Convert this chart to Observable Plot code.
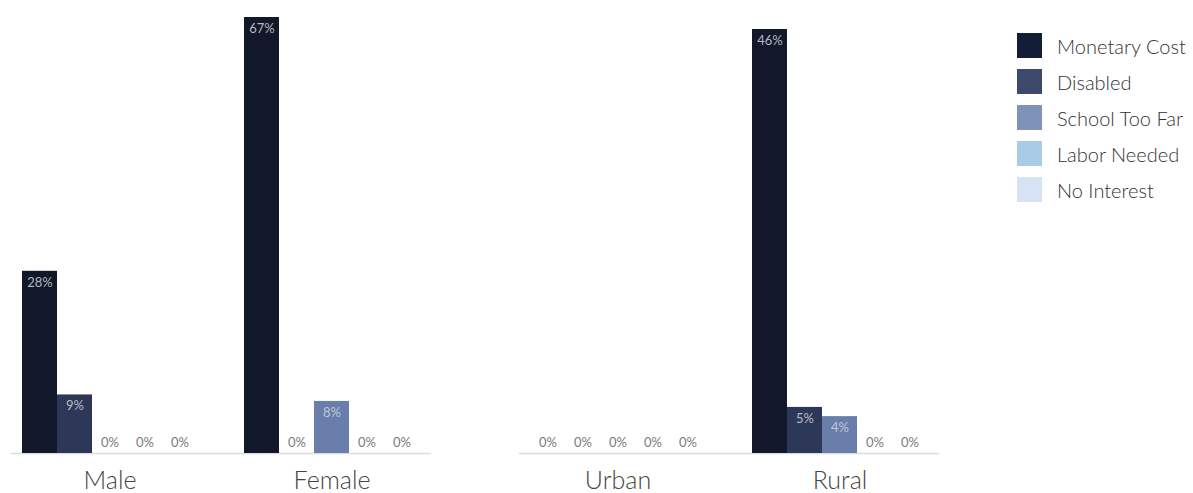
<!DOCTYPE html>
<html>
<head>
<meta charset="utf-8">
<script src="https://cdn.jsdelivr.net/npm/d3@7"></script>
<script src="https://cdn.jsdelivr.net/npm/@observablehq/plot@0.6"></script>
<style>
  html, body { margin: 0; padding: 0; background: #fff; }
  #root { position: relative; width: 1193px; height: 493px; overflow: hidden; font-family: Lato, "Open Sans", sans-serif; }
  .panel { position: absolute; top: 0; }
  #legend { position: absolute; left: 1017px; top: 33px; }
  .li { display: flex; align-items: center; height: 25px; margin-bottom: 11px; }
  .sw { width: 25px; height: 25px; margin-right: 15px; flex: none; }
  .lt { font-size: 20px; color: #333; font-weight: 300; white-space: nowrap; }
</style>
</head>
<body>
<div id="root">
  <div id="p1" class="panel" style="left:0px"></div>
  <div id="p2" class="panel" style="left:508px"></div>
  <div id="legend"></div>
</div>
<script>
// ---- data ----
const causes = ["Monetary Cost", "Disabled", "School Too Far", "Labor Needed", "No Interest"];
const barColors = ["#111829", "#2d3858", "#6a7eab", "#a9cbe6", "#d5e3f5"];
const legendColors = ["#111e36", "#3d4a6b", "#7f93b8", "#a9cbe6", "#d5e3f5"];

const genderGroups = ["Male", "Female"];
const maleValues = [28, 9, 0, 0, 0];
const femaleValues = [67, 0, 8, 0, 0];

const areaGroups = ["Urban", "Rural"];
const urbanValues = [0, 0, 0, 0, 0];
const ruralValues = [46, 5, 4, 0, 0];

function rows(groups, seriesList) {
  const out = [];
  groups.forEach((g, gi) => {
    causes.forEach((c, ci) => out.push({group: g, cause: c, value: seriesList[gi][ci]}));
  });
  return out;
}

function panel(groups, data, marginTop) {
  return Plot.plot({
    width: 440,
    height: 493,
    marginLeft: 10,
    marginRight: 10,
    marginTop: marginTop,
    marginBottom: 40,
    style: {fontFamily: "Lato, 'Open Sans', sans-serif", fontSize: "25px", fontWeight: 300, color: "#444", background: "transparent"},
    fx: {domain: groups, paddingInner: 0.204, paddingOuter: 0.044, axis: "bottom", tickSize: 0, tickPadding: 18, label: null},
    x: {domain: causes, padding: 0, axis: null},
    y: {domain: [0, d3.max(data, d => d.value)], axis: null},
    color: {domain: causes, range: barColors},
    marks: [
      Plot.frame({anchor: "bottom", facet: "super", stroke: "#dcdcdc", strokeWidth: 1.5, insetLeft: -10, insetRight: -10}),
      Plot.barY(data, {fx: "group", x: "cause", y: "value", fill: "cause"}),
      Plot.text(data.filter(d => d.value > 0), {fx: "group", x: "cause", y: "value", text: d => d.value + "%", lineAnchor: "top", dy: 6, fill: "#d4d7df", fillOpacity: 0.85, fontSize: 13, fontWeight: 400, letterSpacing: "-0.5px"}),
      Plot.text(data.filter(d => d.value === 0), {fx: "group", x: "cause", y: "value", text: d => d.value + "%", lineAnchor: "bottom", dy: -7, fill: "#7a7a7a", fontSize: 13, fontWeight: 400, letterSpacing: "-0.5px"})
    ]
  });
}

document.getElementById("p1").append(panel(genderGroups, rows(genderGroups, [maleValues, femaleValues]), 17));
document.getElementById("p2").append(panel(areaGroups, rows(areaGroups, [urbanValues, ruralValues]), 29));

const legend = document.getElementById("legend");
causes.forEach((c, i) => {
  const row = document.createElement("div");
  row.className = "li";
  const sw = document.createElement("div");
  sw.className = "sw";
  sw.style.background = legendColors[i];
  const t = document.createElement("span");
  t.className = "lt";
  t.textContent = c;
  row.append(sw, t);
  legend.append(row);
});
</script>
</body>
</html>
